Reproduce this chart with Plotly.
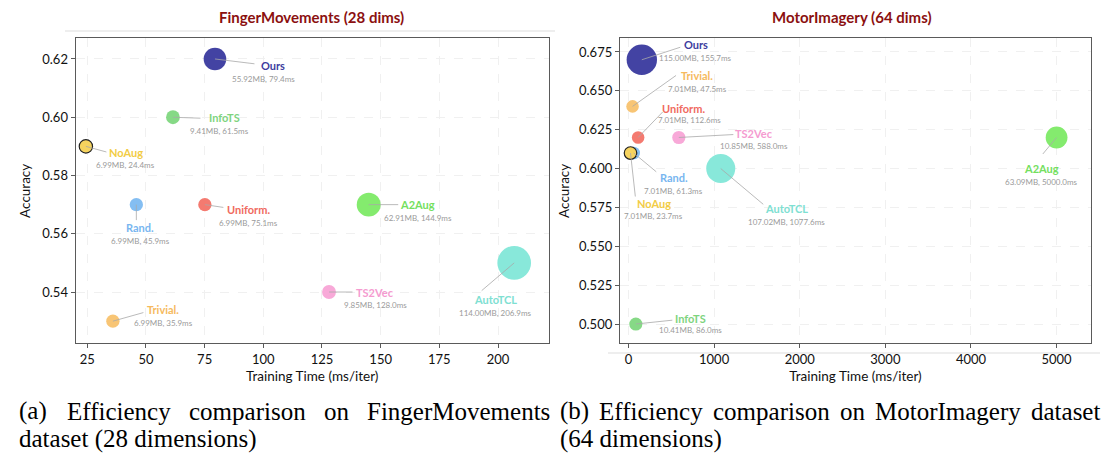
import numpy as np
import plotly.graph_objects as go

# ---- FingerMovements (28 dims) ----
fm_methods = ["Ours", "InfoTS", "NoAug", "Rand.", "Uniform.", "A2Aug", "TS2Vec", "Trivial.", "AutoTCL"]
fm_time = [79.4, 61.5, 24.4, 45.9, 75.1, 144.9, 128.0, 35.9, 206.9]
fm_acc = [0.62, 0.60, 0.59, 0.57, 0.57, 0.57, 0.54, 0.53, 0.55]
fm_mem = [55.92, 9.41, 6.99, 6.99, 6.99, 62.91, 9.85, 6.99, 114.00]

# ---- MotorImagery (64 dims) ----
mi_methods = ["Ours", "Trivial.", "Uniform.", "TS2Vec", "Rand.", "NoAug", "AutoTCL", "A2Aug", "InfoTS"]
mi_time = [155.7, 47.5, 112.6, 588.0, 61.3, 23.7, 1077.6, 5000.0, 86.0]
mi_acc = [0.67, 0.64, 0.62, 0.62, 0.61, 0.61, 0.60, 0.62, 0.50]
mi_mem = [115.00, 7.01, 7.01, 10.85, 7.01, 7.01, 107.02, 63.09, 10.41]

fm_xticks = [25, 50, 75, 100, 125, 150, 175, 200]
fm_yticks = [0.54, 0.56, 0.58, 0.60, 0.62]
mi_xticks = [0, 1000, 2000, 3000, 4000, 5000]
mi_yticks = [0.500, 0.525, 0.550, 0.575, 0.600, 0.625, 0.650, 0.675]

COLORS = {
    "Ours": "#4343A3", "InfoTS": "#86D986", "NoAug": "#F6D35E", "Rand.": "#84BEF2",
    "Uniform.": "#F47A70", "A2Aug": "#84EB6E", "TS2Vec": "#F8A9D8",
    "Trivial.": "#F8C575", "AutoTCL": "#88E8DA",
}
TEXT_COLORS = {
    "Ours": "#3D3D9E", "InfoTS": "#7ED47E", "NoAug": "#F2CC45", "Rand.": "#78B6F0",
    "Uniform.": "#F06A60", "A2Aug": "#74E05E", "TS2Vec": "#F59BD0",
    "Trivial.": "#F6BA5E", "AutoTCL": "#7EE0D2",
}

# label placement (pixel offsets from the bubble centre: dx right, dy down)
fm_name_off = [(58, 7), (52, 0), (40, 6), (4, 23), (44, 5), (49, 0), (46, 0), (50, -12), (-19, 37)]
fm_sub_off = [(49, 20), (47, 14), (40, 19), (4, 36), (44, 18), (49, 13), (46, 13), (51, 2), (-19, 50)]
fm_line_end = [(41, 5), (29, 1), (22, 6), (0, 17), (20, 3), (31, 0), (25, 0), (32, -9), (-34, 29)]

mi_name_off = [(54, -15), (64, -31), (45, -29), (75, -4), (40, 24), (23, 50), (66, 40), (-15, 31), (55, -6)]
mi_sub_off = [(54, -2), (65, -17), (51, -17), (75, 9), (40, 38), (23, 63), (66, 53), (-15, 45), (55, 6)]
mi_line_end = [(40, -13), (45, -32), (26, -27), (56, -3), (24, 20), (5, 45), (44, 37), (-15, 18), (38, -4)]

FONT = "Lato"


def bubble_diam(mem, base, slope):
    # bubble diameter grows linearly with memory footprint
    return base + slope * np.asarray(mem)


def panel(fig, methods, tx, acc, mem, xa, ya, name_off, sub_off, line_end, base, slope):
    cols = [COLORS[m] for m in methods]
    edge = ["#222222" if m == "NoAug" else COLORS[m] for m in methods]
    ew = [1.2 if m == "NoAug" else 0 for m in methods]
    fig.add_trace(go.Scatter(
        x=tx, y=acc, mode="markers", xaxis=xa, yaxis=ya, showlegend=False,
        marker=dict(size=bubble_diam(mem, base, slope), sizemode="diameter", color=cols,
                    opacity=1, line=dict(color=edge, width=ew)),
        hoverinfo="skip",
    ))
    anns = []
    for i, m in enumerate(methods):
        anns.append(dict(x=tx[i], y=acc[i], xref=xa, yref=ya, text="", showarrow=True,
                         ax=line_end[i][0], ay=line_end[i][1], arrowhead=0, arrowwidth=0.8,
                         arrowcolor="#a8a8a8", standoff=0))
        anns.append(dict(x=tx[i], y=acc[i], xref=xa, yref=ya, text=f"<b>{m}</b>", showarrow=False,
                         xshift=name_off[i][0], yshift=-name_off[i][1], xanchor="center",
                         yanchor="middle", font=dict(family=FONT, size=11, color=TEXT_COLORS[m])))
        anns.append(dict(x=tx[i], y=acc[i], xref=xa, yref=ya,
                         text=f"{mem[i]:.2f}MB, {tx[i]:.1f}ms", showarrow=False,
                         xshift=sub_off[i][0], yshift=-sub_off[i][1], xanchor="center",
                         yanchor="middle", font=dict(family=FONT, size=8, color="#9a9a9a")))
    return anns


fig = go.Figure()
annotations = []
annotations += panel(fig, fm_methods, fm_time, fm_acc, fm_mem, "x", "y",
                     fm_name_off, fm_sub_off, fm_line_end, 12.0, 0.19)
annotations += panel(fig, mi_methods, mi_time, mi_acc, mi_mem, "x2", "y2",
                     mi_name_off, mi_sub_off, mi_line_end, 11.4, 0.165)

W, H = 1105, 456


def px(v):
    return v / W


def py(v):
    return 1 - v / H


axis_common = dict(
    showline=True, mirror=True, linecolor="#5a5a5a", linewidth=1.3,
    ticks="outside", ticklen=4, tickcolor="#5a5a5a", tickwidth=1,
    showgrid=True, gridcolor="#f0f0f0", griddash="dash", gridwidth=0.8,
    zeroline=False, automargin=False,
    tickfont=dict(family=FONT, size=13, color="#111111"),
    title_font=dict(family=FONT, size=13.5, color="#111111"),
)

fig.update_layout(
    width=W, height=H, margin=dict(l=0, r=0, t=0, b=0),
    paper_bgcolor="white", plot_bgcolor="white",
    xaxis=dict(axis_common, domain=[px(75.7), px(548.7)], range=[20.06, 221.6],
               tickvals=fm_xticks, anchor="y",
               title=dict(text="Training Time (ms/iter)", standoff=5)),
    yaxis=dict(axis_common, domain=[py(343.3), py(38.3)], range=[0.5224, 0.6271],
               tickvals=fm_yticks, tickformat=".2f", anchor="x",
               title=dict(text="Accuracy", standoff=8)),
    xaxis2=dict(axis_common, domain=[px(620), px(1091)], range=[-99, 5402],
                tickvals=mi_xticks, anchor="y2",
                title=dict(text="Training Time (ms/iter)", standoff=5)),
    yaxis2=dict(axis_common, domain=[py(343.3), py(38.3)], range=[0.4876, 0.6838],
                tickvals=mi_yticks, tickformat=".3f", anchor="x2",
                title=dict(text="Accuracy", standoff=6)),
)

# panel titles
for txt, cx in [("FingerMovements (28 dims)", 311), ("MotorImagery (64 dims)", 852)]:
    annotations.append(dict(x=px(cx), y=py(17), xref="paper", yref="paper", text=f"<b>{txt}</b>",
                            showarrow=False, xanchor="center", yanchor="middle",
                            font=dict(family=FONT, size=15, color="#8B1010")))

# captions: first lines are justified word by word
CAP = dict(family="Liberation Serif", size=25, color="#000000")
cap_a_words = ["(a)", "Efficiency", "comparison", "on", "FingerMovements"]
cap_a_x = [17, 65, 187, 322, 365]
cap_b_words = ["(b)", "Efficiency", "comparison", "on", "MotorImagery", "dataset"]
cap_b_x = [558, 597, 711, 838, 873, 1029]
for words, xs in [(cap_a_words, cap_a_x), (cap_b_words, cap_b_x)]:
    for w, x0 in zip(words, xs):
        annotations.append(dict(x=px(x0), y=py(411), xref="paper", yref="paper", text=w,
                                showarrow=False, xanchor="left", yanchor="middle", font=CAP))
annotations.append(dict(x=px(17), y=py(439), xref="paper", yref="paper",
                        text="dataset (28 dimensions)", showarrow=False,
                        xanchor="left", yanchor="middle", font=CAP))
annotations.append(dict(x=px(558), y=py(439), xref="paper", yref="paper",
                        text="(64 dimensions)", showarrow=False,
                        xanchor="left", yanchor="middle", font=CAP))

fig.update_layout(annotations=annotations)

# thin separator rules
fig.add_shape(type="line", xref="paper", yref="paper", x0=px(65), x1=px(555), y0=py(31), y1=py(31),
              line=dict(color="#dddddd", width=1))
fig.add_shape(type="line", xref="paper", yref="paper", x0=px(608), x1=px(1100), y0=py(353), y1=py(353),
              line=dict(color="#dddddd", width=1))

fig.write_html("out.html")
